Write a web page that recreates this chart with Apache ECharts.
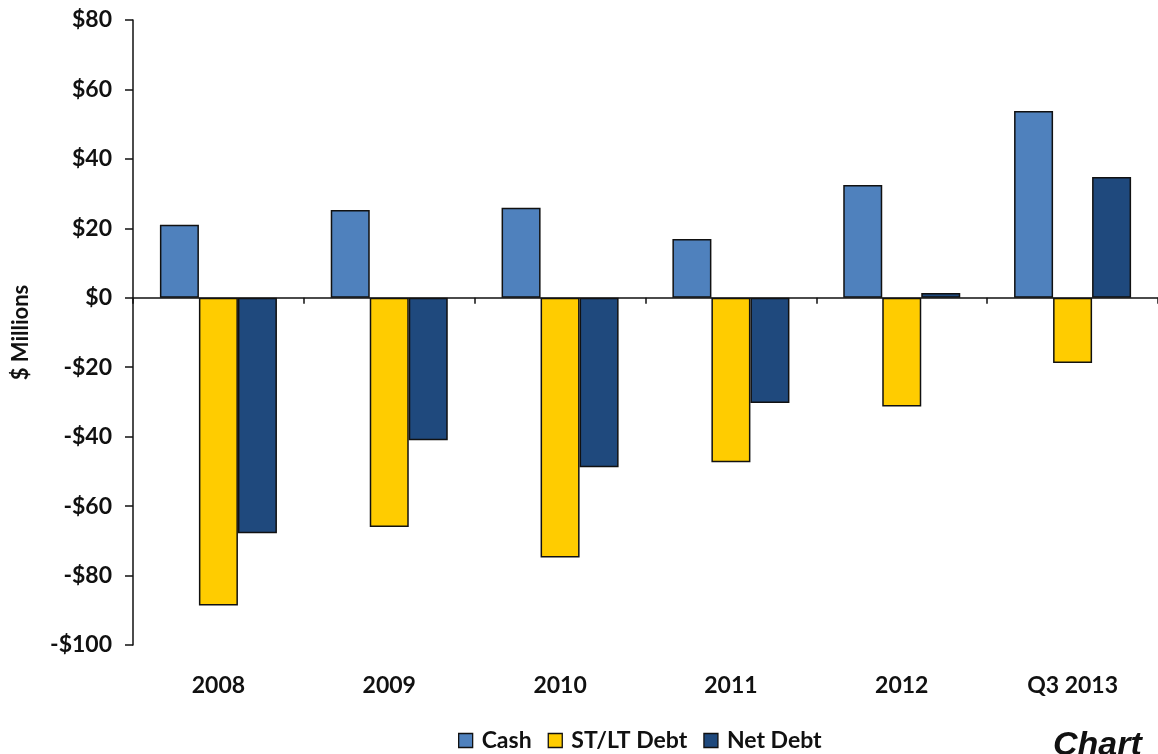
<!DOCTYPE html>
<html>
<head>
<meta charset="utf-8">
<script src="https://cdn.jsdelivr.net/npm/echarts@6/dist/echarts.min.js"></script>
<style>
  html, body { margin: 0; padding: 0; background: #fff; }
  #chart { width: 1158px; height: 754px; }
</style>
</head>
<body>
<div id="chart"></div>
<script>
// Cash and debt position by year, $ millions
const categories = ['2008', '2009', '2010', '2011', '2012', 'Q3 2013'];
const cash = [21.0, 25.3, 25.9, 16.9, 32.5, 53.8];
const stltDebt = [-88.6, -66.0, -74.8, -47.4, -31.3, -18.8];
const netDebt = [-67.8, -41.0, -48.8, -30.3, 1.4, 34.8];
const yTicks = { min: -100, max: 80, interval: 20 };

const FONT = 'Lato, "Open Sans", sans-serif';
const barBorder = { borderColor: '#111', borderWidth: 1.5 };
const legendIcon = { borderColor: '#111', borderWidth: 1.3 };

const chart = echarts.init(document.getElementById('chart'), null, { renderer: 'canvas' });
chart.setOption({
  animation: false,
  backgroundColor: '#fff',
  grid: { left: 133, right: 0, top: 20, bottom: 109, containLabel: false, outerBoundsMode: 'none' },
  legend: {
    top: 724,
    left: 453,
    itemWidth: 14,
    itemHeight: 14,
    itemGap: 16,
    icon: 'rect',
    textStyle: { fontFamily: FONT, fontWeight: 'bold', fontSize: 23, color: '#111', padding: [0, 0, 0, 4] },
    data: [
      { name: 'Cash', itemStyle: legendIcon },
      { name: 'ST/LT Debt', itemStyle: legendIcon },
      { name: 'Net Debt', itemStyle: legendIcon }
    ]
  },
  xAxis: [
    {
      // baseline at zero with category ticks
      type: 'category',
      data: categories,
      axisLine: { onZero: true, lineStyle: { color: '#111', width: 1.5 } },
      axisTick: { show: true, length: 6, lineStyle: { color: '#111', width: 1.5 } },
      axisLabel: { show: false },
      splitLine: { show: false }
    },
    {
      // category labels along the bottom
      type: 'category',
      data: categories,
      position: 'bottom',
      axisLine: { show: false, onZero: false },
      axisTick: { show: false },
      axisLabel: { show: true, margin: 29, fontFamily: FONT, fontWeight: 'bold', fontSize: 23, color: '#111' },
      splitLine: { show: false }
    }
  ],
  yAxis: {
    type: 'value',
    min: yTicks.min,
    max: yTicks.max,
    interval: yTicks.interval,
    name: '$ Millions',
    nameLocation: 'middle',
    nameGap: 101,
    nameRotate: 90,
    nameTextStyle: { fontFamily: FONT, fontWeight: 'bold', fontSize: 22, color: '#111' },
    axisLine: { show: true, lineStyle: { color: '#111', width: 1.5 } },
    axisTick: { show: true, length: 8, lineStyle: { color: '#111', width: 1.5 } },
    axisLabel: {
      margin: 21,
      fontFamily: FONT, fontWeight: 'bold', fontSize: 23, color: '#111',
      formatter: v => (v < 0 ? '-$' + Math.abs(v) : '$' + v)
    },
    splitLine: { show: false }
  },
  series: [
    {
      name: 'Cash', type: 'bar', data: cash, xAxisIndex: 0,
      barGap: '0%', barCategoryGap: '31.5%',
      itemStyle: Object.assign({ color: '#4F81BD' }, barBorder)
    },
    {
      name: 'ST/LT Debt', type: 'bar', data: stltDebt, xAxisIndex: 0,
      barGap: '0%', barCategoryGap: '31.5%',
      itemStyle: Object.assign({ color: '#FFCC00' }, barBorder)
    },
    {
      name: 'Net Debt', type: 'bar', data: netDebt, xAxisIndex: 0,
      barGap: '0%', barCategoryGap: '31.5%',
      itemStyle: Object.assign({ color: '#1F497D' }, barBorder)
    }
  ],
  graphic: [
    {
      type: 'text',
      left: 1053,
      top: 729,
      style: {
        text: 'Chart',
        fontFamily: '"Liberation Sans", Arial, sans-serif',
        fontWeight: 'bold',
        fontStyle: 'italic',
        fontSize: 34,
        fill: '#111'
      }
    }
  ]
});
</script>
</body>
</html>
